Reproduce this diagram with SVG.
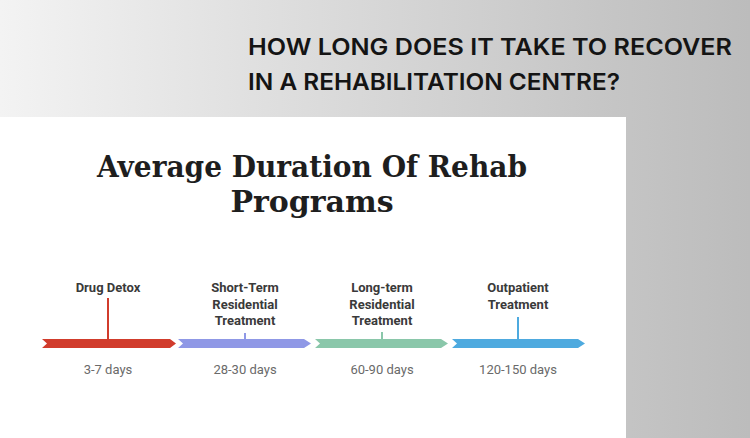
<svg xmlns="http://www.w3.org/2000/svg" width="750" height="438" viewBox="0 0 750 438">
  <defs>
    <linearGradient id="bg" x1="0" y1="0" x2="1" y2="0">
      <stop offset="0" stop-color="#f3f3f3"/>
      <stop offset="0.8" stop-color="#c6c6c6"/>
      <stop offset="1" stop-color="#bcbcbc"/>
    </linearGradient>
    <style>
      .hdr { font-family: Inter, Roboto, "Liberation Sans", sans-serif; font-weight: 600; font-size: 23px; fill: #141414; }
      .ttl { font-family: "DejaVu Serif", "Liberation Serif", serif; font-weight: bold; font-size: 30px; fill: #1e1e1e; text-anchor: middle; }
      .lbl { font-family: Roboto, "Liberation Sans", sans-serif; font-weight: bold; font-size: 13px; fill: #3a3a3a; text-anchor: middle; }
      .day { font-family: Roboto, "Liberation Sans", sans-serif; font-size: 13px; fill: #6a6a6a; text-anchor: middle; }
      .tick { stroke-width: 2; fill: none; }
    </style>
  </defs>

  <rect x="0" y="0" width="750" height="438" fill="url(#bg)"/>
  <rect x="0" y="117" width="626" height="321" fill="#ffffff"/>

  <g id="header">
    <text class="hdr" x="248" y="55" textLength="484" lengthAdjust="spacingAndGlyphs">HOW LONG DOES IT TAKE TO RECOVER</text>
    <text class="hdr" x="248" y="90" textLength="372" lengthAdjust="spacingAndGlyphs">IN A REHABILITATION CENTRE?</text>
  </g>

  <g id="title">
    <text class="ttl" x="312" y="177" textLength="430" lengthAdjust="spacingAndGlyphs">Average Duration Of Rehab</text>
    <text class="ttl" x="312" y="212">Programs</text>
  </g>

  <g id="connectors">
    <polygon points="42,339 170,339 176,343.5 170,348 42,348 47,343.5" fill="#d13c2c"/>
    <polygon points="178,339 304,339 311,343.5 304,348 178,348 183,343.5" fill="#8f98e6"/>
    <polygon points="315,339 441,339 448,343.5 441,348 315,348 320,343.5" fill="#8ac7aa"/>
    <polygon points="452,339 578,339 585,343.5 578,348 452,348 457,343.5" fill="#4eaadf"/>
  </g>

  <g id="drug-detox">
    <text class="lbl" x="108" y="292">Drug Detox</text>
    <line class="tick" x1="108" y1="298" x2="108" y2="343" stroke="#d13c2c"/>
    <text class="day" x="108" y="374">3-7 days</text>
  </g>

  <g id="short-term">
    <text class="lbl" x="245" y="292">Short-Term</text>
    <text class="lbl" x="245" y="308.5">Residential</text>
    <text class="lbl" x="245" y="325">Treatment</text>
    <line class="tick" x1="245" y1="333" x2="245" y2="343" stroke="#8f98e6"/>
    <text class="day" x="245" y="374">28-30 days</text>
  </g>

  <g id="long-term">
    <text class="lbl" x="382" y="292">Long-term</text>
    <text class="lbl" x="382" y="308.5">Residential</text>
    <text class="lbl" x="382" y="325">Treatment</text>
    <line class="tick" x1="382" y1="332" x2="382" y2="343" stroke="#8ac7aa"/>
    <text class="day" x="382" y="374">60-90 days</text>
  </g>

  <g id="outpatient">
    <text class="lbl" x="518" y="292">Outpatient</text>
    <text class="lbl" x="518" y="308.5">Treatment</text>
    <line class="tick" x1="518" y1="317" x2="518" y2="343" stroke="#4eaadf"/>
    <text class="day" x="518" y="374">120-150 days</text>
  </g>
</svg>
